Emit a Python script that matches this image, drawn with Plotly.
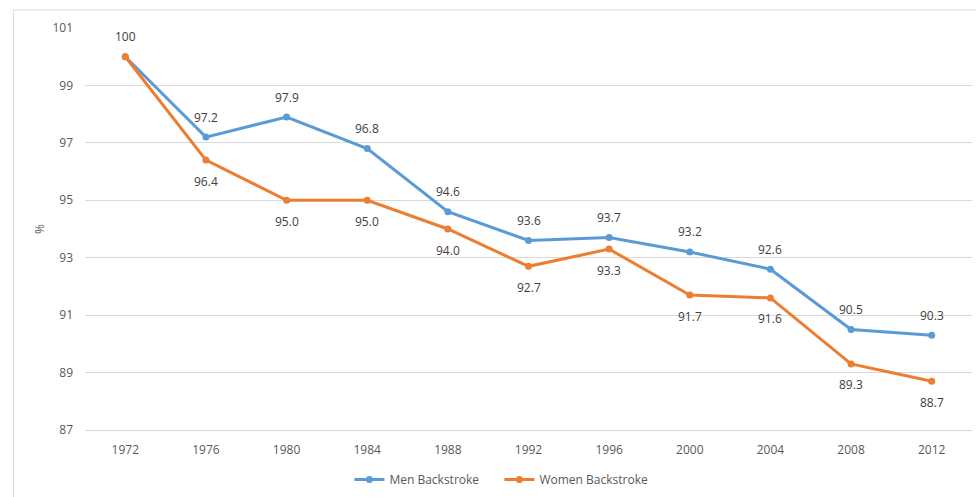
import plotly.graph_objects as go

years = ["1972", "1976", "1980", "1984", "1988", "1992", "1996", "2000", "2004", "2008", "2012"]
men = [100, 97.2, 97.9, 96.8, 94.6, 93.6, 93.7, 93.2, 92.6, 90.5, 90.3]
women = [100, 96.4, 95.0, 95.0, 94.0, 92.7, 93.3, 91.7, 91.6, 89.3, 88.7]
y_ticks = [87, 89, 91, 93, 95, 97, 99, 101]

men_labels = ["100" if v == 100 else f"{v:.1f}" for v in men]
women_labels = ["" if v == 100 else f"{v:.1f}" for v in women]

MEN_COLOR = "#5B9BD5"
WOMEN_COLOR = "#ED7D31"
LABEL_COLOR = "#404040"

fig = go.Figure()
fig.add_trace(go.Scatter(
    x=years, y=men, name="Men Backstroke", mode="lines+markers",
    line=dict(color=MEN_COLOR, width=3), marker=dict(size=7, color=MEN_COLOR),
))
fig.add_trace(go.Scatter(
    x=years, y=women, name="Women Backstroke", mode="lines+markers",
    line=dict(color=WOMEN_COLOR, width=3), marker=dict(size=7, color=WOMEN_COLOR),
))

# data labels: men above the points, women below (x given as category index)
annotations = []
for i, (v, t) in enumerate(zip(men, men_labels)):
    annotations.append(dict(x=i, y=v, xref="x", yref="y", text=t, showarrow=False,
                            yshift=20, font=dict(size=12, color=LABEL_COLOR)))
for i, (v, t) in enumerate(zip(women, women_labels)):
    if t:
        annotations.append(dict(x=i, y=v, xref="x", yref="y", text=t, showarrow=False,
                                yshift=-21, font=dict(size=12, color=LABEL_COLOR)))

fig.update_layout(
    width=976, height=497,
    margin=dict(l=85, r=4, t=28, b=67, autoexpand=False),
    paper_bgcolor="white", plot_bgcolor="white",
    font=dict(family="Open Sans, sans-serif", size=12, color="#595959"),
    showlegend=True,
    legend=dict(orientation="h", xref="container", x=0.5117, xanchor="center",
                yref="container", y=0.035, yanchor="middle",
                entrywidth=105, entrywidthmode="pixels",
                font=dict(size=12, color="#595959")),
    xaxis=dict(type="category", range=[-0.5, 10.5], showgrid=False, automargin=False,
               showline=True, linecolor="#D9D9D9", ticks="", ticklabelstandoff=9,
               tickfont=dict(size=12, color="#595959")),
    yaxis=dict(range=[87, 101], tickvals=y_ticks, showgrid=True, gridcolor="#D9D9D9",
               zeroline=False, showline=False, ticks="", ticklabelstandoff=11,
               automargin=False,
               title=dict(text="%", font=dict(size=12, color="#595959"), standoff=5),
               tickfont=dict(size=12, color="#595959")),
    annotations=annotations,
    shapes=[dict(type="rect", xref="paper", yref="paper",
                 x0=-0.0805, x1=1.01, y0=-0.2, y1=1.045,
                 line=dict(color="#D9D9D9", width=1), fillcolor="rgba(0,0,0,0)", layer="below")],
)

fig.write_html("out.html")
